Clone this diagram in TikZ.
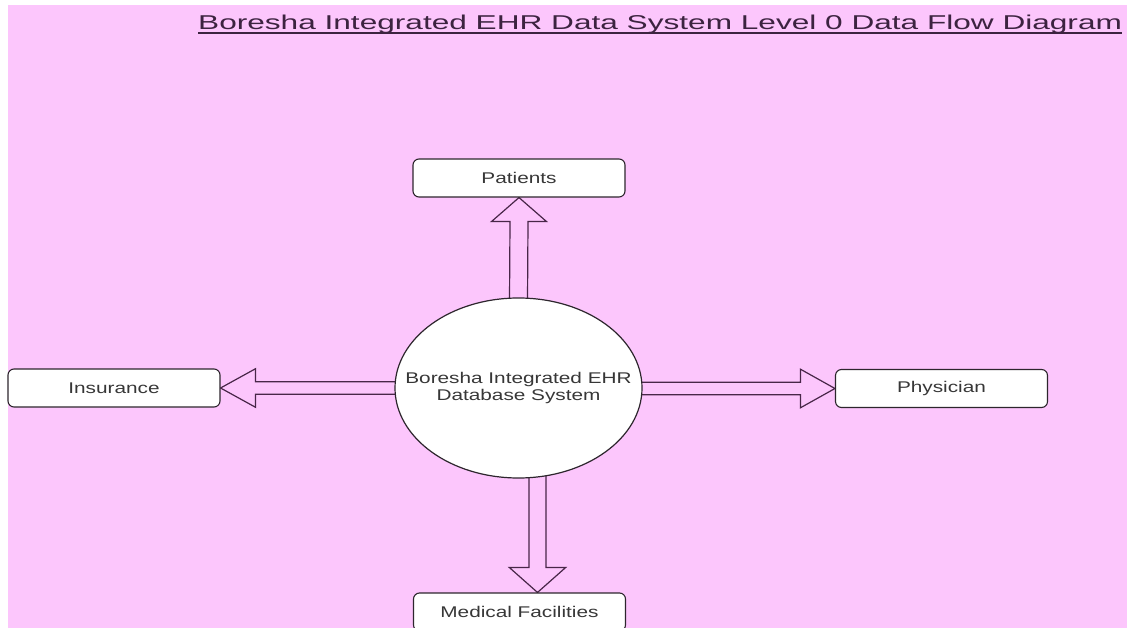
\documentclass[tikz,border=0pt]{standalone}
\usepackage{fontspec}
\usetikzlibrary{calc,shapes.geometric}
\newfontfamily\titlefont[FakeStretch=1.58]{Liberation Sans}
\newfontfamily\labelfont[FakeStretch=1.34]{Liberation Sans}
\definecolor{pinkbg}{RGB}{252,198,252}
\definecolor{edge}{RGB}{45,38,45}
\definecolor{arrowline}{RGB}{72,38,72}
\definecolor{titlecol}{RGB}{60,35,64}
\definecolor{labelcol}{RGB}{55,55,55}
\pgfdeclarelayer{back}
\pgfdeclarelayer{flow}
\pgfsetlayers{back,flow,main}

\begin{document}
\begin{tikzpicture}[x=1pt,y=-1pt,
  labeltext/.style={font=\labelfont\fontsize{15.5}{17.5}\selectfont, text=labelcol},
  entity/.style={draw=edge, line width=1.1pt, fill=white, rounded corners=6pt,
    minimum width=212pt, minimum height=38pt, inner sep=0pt, labeltext},
  process/.style={ellipse, draw=edge, line width=1.2pt, fill=white,
    minimum width=247pt, minimum height=180pt, inner sep=0pt},
  flowarrow/.style={draw=arrowline, line width=1.2pt, fill=pinkbg, line join=miter}]

\useasboundingbox (0,0) rectangle (1127,628);
\begin{pgfonlayer}{back}
  \fill[white] (0,0) rectangle (1127,628);
  \fill[pinkbg] (8,5) rectangle (1127,628);
\end{pgfonlayer}

% title
\node[anchor=base west, inner sep=0pt, text=titlecol,
      font=\titlefont\fontsize{20}{24}\selectfont] (title) at (198,30)
  {Boresha Integrated EHR Data System Level 0 Data Flow Diagram};
\draw[titlecol, line width=1.2pt] ($(title.base west)+(0,3)$) -- ($(title.base east)+(0,3)$);

% central process and external entities
\node[process] (sys) at (518.5,388) {};
\node[labeltext, align=center, inner sep=0pt] (systext) at (sys.center)
  {Boresha Integrated EHR\\Database System};
\node[entity] (pat) at (519,178) {Patients};
\node[entity] (ins) at (114,388) {Insurance};
\node[entity] (phy) at (941.5,388.5) {Physician};
\node[entity] (med) at (519.5,612) {Medical Facilities};
\coordinate (mtip) at ($(med.north)+(18,0)$);

% hollow block arrows, kept beneath the shapes they join
\begin{pgfonlayer}{flow}
  % to Patients
  \filldraw[flowarrow] (pat.south) -- ++(27.5,24) -- ++(-18.5,0)
    -- ($(sys.north)+(9,4)$) -- ++(-18,0)
    -- ($(pat.south)+(-9,24)$) -- ++(-18.5,0) -- cycle;
  % to Physician
  \filldraw[flowarrow] (phy.west) -- ++(-34.5,-19.3) -- ++(0,13.1)
    -- ($(sys.east |- phy.west)+(-4,-6.2)$) -- ++(0,12.4)
    -- ($(phy.west)+(-34.5,6.2)$) -- ++(0,13.1) -- cycle;
  % to Insurance
  \filldraw[flowarrow] (ins.east) -- ++(35,-19.3) -- ++(0,13.1)
    -- ($(sys.west |- ins.east)+(4,-6.2)$) -- ++(0,12.4)
    -- ($(ins.east)+(35,6.2)$) -- ++(0,13.1) -- cycle;
  % to Medical Facilities
  \filldraw[flowarrow] (mtip) -- ++(28.2,-25) -- ++(-19.7,0)
    -- ($(mtip |- sys.south)+(8.5,-6)$) -- ++(-17,0)
    -- ($(mtip)+(-8.5,-25)$) -- ++(-19.7,0) -- cycle;
\end{pgfonlayer}
\end{tikzpicture}
\end{document}
